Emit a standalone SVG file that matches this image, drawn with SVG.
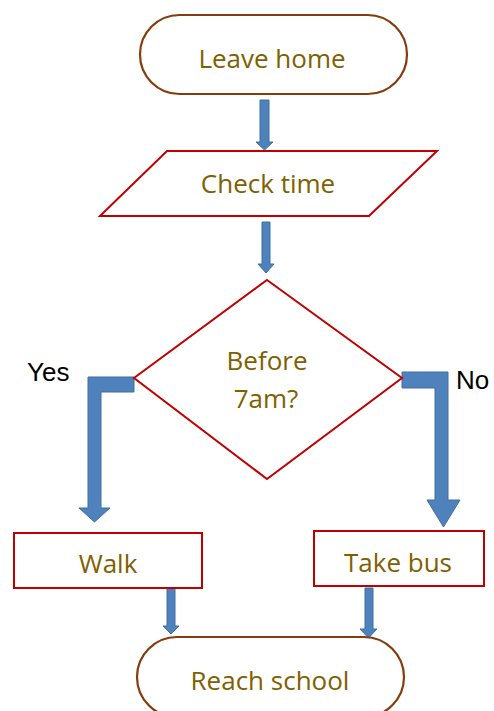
<svg xmlns="http://www.w3.org/2000/svg" width="494" height="711" viewBox="0 0 494 711">
<style>
.term{fill:#fff;stroke:#843c0c;stroke-width:2.2}
.proc{fill:#fff;stroke:#c00000;stroke-width:2}
.lbl{font-family:"Open Sans","Noto Sans",sans-serif;font-size:26px;fill:#7f6000;text-anchor:middle}
.yn{font-family:"Liberation Sans",Arial,sans-serif;font-size:26px;fill:#000}
.arr{fill:#4f81bd;stroke:#41719c;stroke-width:1}
</style>
<rect width="494" height="711" fill="#fff"/>
<g id="connectors">
<path class="arr" d="M260,100 H269 V142 H273 L264.5,150 L256,142 H260 Z"/>
<path class="arr" d="M262,222 H270 V264 H274 L266,273 L258,264 H262 Z"/>
<path class="arr" d="M134,377 V392 H101 V508 H110 L94.5,522 L79,508 H88 V377 Z"/>
<path class="arr" d="M402,372 H448 V500 H460 L443.5,527 L427,500 H435 V388 H402 Z"/>
<path class="arr" d="M167,583 H175 V626 H179 L171,634 L163,626 H167 Z"/>
<path class="arr" d="M365,588 H373 V629 H377 L368.5,638 L360,629 H365 Z"/>
</g>
<g id="leave-home">
<rect class="term" x="140" y="15" width="267" height="79" rx="39.5"/>
<text class="lbl" x="272" y="68">Leave home</text>
</g>
<g id="check-time">
<polygon class="proc" points="167,151 437,151 369,216 100,216"/>
<text class="lbl" x="268" y="193">Check time</text>
</g>
<g id="before-7am">
<polygon class="proc" points="267,280 402,378 267,479 134,378"/>
<text class="lbl" x="267" y="370">Before</text>
<text class="lbl" x="266" y="408">7am?</text>
</g>
<g id="yes-label"><text class="yn" x="27" y="381">Yes</text></g>
<g id="no-label"><text class="yn" x="456" y="389">No</text></g>
<g id="walk">
<rect class="proc" x="14" y="533" width="188" height="55"/>
<text class="lbl" x="108" y="573">Walk</text>
</g>
<g id="take-bus">
<rect class="proc" x="314" y="531" width="170" height="55"/>
<text class="lbl" x="398" y="572">Take bus</text>
</g>
<g id="reach-school">
<rect class="term" x="137" y="637" width="267" height="80" rx="40"/>
<text class="lbl" x="270" y="690">Reach school</text>
</g>
</svg>
